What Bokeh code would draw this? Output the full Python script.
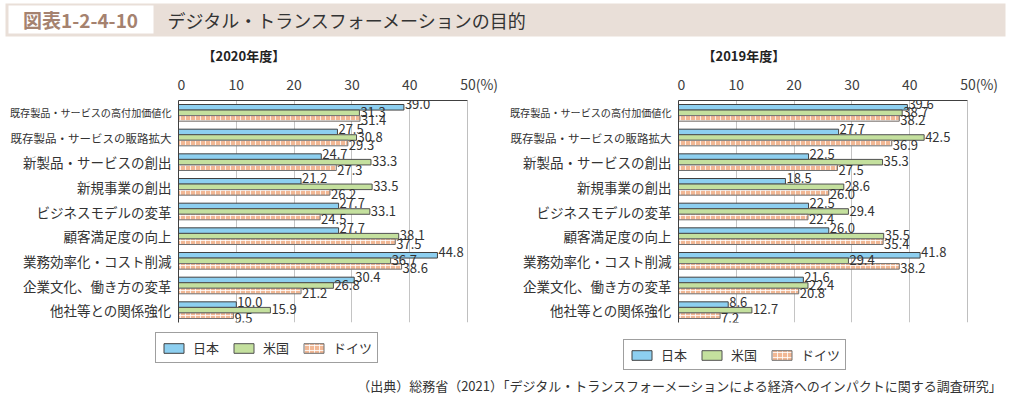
from bokeh.plotting import figure
from bokeh.models import (ColumnDataSource, FactorRange, Range1d, FixedTicker, LabelSet,
                          Legend, LegendItem, Span)
from bokeh.layouts import column, row
from bokeh.transform import dodge
from bokeh.core.properties import value, field
from bokeh.embed import file_html
from bokeh.resources import INLINE

# ---------------- data ----------------
categories = [
    "既存製品・サービスの高付加価値化",
    "既存製品・サービスの販路拡大",
    "新製品・サービスの創出",
    "新規事業の創出",
    "ビジネスモデルの変革",
    "顧客満足度の向上",
    "業務効率化・コスト削減",
    "企業文化、働き方の変革",
    "他社等との関係強化",
]
series_names = ["日本", "米国", "ドイツ"]

jp_2020 = [39.0, 27.5, 24.7, 21.2, 27.7, 27.7, 44.8, 30.4, 10.0]
us_2020 = [31.3, 30.8, 33.3, 33.5, 33.1, 38.1, 36.7, 26.8, 15.9]
de_2020 = [31.4, 29.3, 27.3, 26.2, 24.5, 37.5, 38.6, 21.2, 9.5]

jp_2019 = [39.6, 27.7, 22.5, 18.5, 22.5, 26.0, 41.8, 21.6, 8.6]
us_2019 = [38.7, 42.5, 35.3, 28.6, 29.4, 35.5, 29.4, 22.4, 12.7]
de_2019 = [38.2, 36.9, 27.5, 26.0, 22.4, 35.4, 38.2, 20.8, 7.2]

x_ticks = [0, 10, 20, 30, 40, 50]
x_tick_labels = {50: "\u2007\u2007\u200750(%)"}

title_tag = "図表1-2-4-10"
title_text = "デジタル・トランスフォーメーションの目的"
source_text = "（出典）総務省（2021）「デジタル・トランスフォーメーションによる経済へのインパクトに関する調査研究」"

# ---------------- style ----------------
FONT = "Noto Sans CJK JP"
C_JP = "#8DCFF0"
C_US = "#C4E09E"
C_DE = "#F2B895"
BAND = "#E9DFD8"
TXT = "#333333"
H = 291
TOP = 59
BOTTOM = 6

JP_STYLE = dict(fill_color=C_JP, line_color="#404040", line_width=1)
US_STYLE = dict(fill_color=C_US, line_color="#505050", line_width=1)
DE_STYLE = dict(fill_color=C_DE, line_color="#707070", line_width=1,
                hatch_pattern="+", hatch_color="white", hatch_scale=5,
                hatch_weight=1, hatch_alpha=0.8)


def panel(year_title, jp, us, de, label_w, chart_w):
    yr = FactorRange(factors=list(reversed(categories)))
    p = figure(width=chart_w, height=H, y_range=yr,
               x_range=Range1d(0, 50), x_axis_location="above",
               output_backend="svg", toolbar_location=None,
               min_border_left=1, min_border_right=chart_w - 1 - 289,
               min_border_top=TOP, min_border_bottom=BOTTOM)
    p.outline_line_color = None

    src = ColumnDataSource(dict(
        cat=categories, jp=jp, us=us, de=de,
        jp_t=[f"{v:.1f}" for v in jp],
        us_t=[f"{v:.1f}" for v in us],
        de_t=[f"{v:.1f}" for v in de],
    ))

    h = 0.225
    p.hbar(y=dodge("cat", h, range=yr), right="jp", left=0, height=h, source=src, **JP_STYLE)
    p.hbar(y=dodge("cat", 0, range=yr), right="us", left=0, height=h, source=src, **US_STYLE)
    p.hbar(y=dodge("cat", -h, range=yr), right="de", left=0, height=h, source=src, **DE_STYLE)

    # data labels (label-set y offsets: positive = up)
    for key, off, yoff in (("jp", h, 3), ("us", 0, 1), ("de", -h, -2)):
        p.add_layout(LabelSet(x=key, y=dodge("cat", off, range=yr), text=key + "_t",
                              source=src, x_offset=1, y_offset=yoff,
                              text_align="left", text_baseline="middle",
                              text_font=value(FONT), text_font_size="13px",
                              text_color=TXT))

    # x axis (top)
    ax = p.xaxis[0]
    ax.ticker = FixedTicker(ticks=x_ticks)
    ax.major_label_overrides = x_tick_labels
    ax.major_label_text_font = FONT
    ax.major_label_text_font_size = "14px"
    ax.major_label_text_color = "#404040"
    ax.major_tick_line_color = None
    ax.minor_tick_line_color = None
    ax.axis_line_color = "#404040"
    ax.major_label_standoff = 1

    p.xgrid.ticker = FixedTicker(ticks=x_ticks)
    p.xgrid.grid_line_color = "#C4C4C4"
    p.ygrid.grid_line_color = None
    p.add_layout(Span(location=50, dimension="height", line_color="#808080", line_width=1))

    # y axis: line only; category names are drawn in the label figure
    ay = p.yaxis[0]
    ay.axis_line_color = "#404040"
    ay.major_tick_line_color = None
    ay.minor_tick_line_color = None
    ay.major_tick_out = 0
    ay.major_tick_in = 0
    ay.major_label_standoff = 0
    ay.major_label_text_font_size = "0px"
    ay.major_label_text_color = None

    p.title.text = year_title
    p.title.align = "left"
    p.title.offset = 24
    p.title.text_font = FONT
    p.title.text_font_size = "13px"
    p.title.text_font_style = "bold"
    p.title.text_color = "#222222"
    p.title.standoff = 12

    # category label column sharing the chart's y range
    lf = figure(width=label_w, height=H, y_range=yr, x_range=Range1d(0, label_w),
                output_backend="svg", toolbar_location=None,
                min_border_left=0, min_border_right=0,
                min_border_top=TOP, min_border_bottom=BOTTOM)
    lf.axis.visible = False
    lf.grid.grid_line_color = None
    lf.outline_line_color = None
    lsrc = ColumnDataSource(dict(
        cat=categories,
        xpos=[label_w - 6] * len(categories),
        fs=[f"{min(13.5, 161 / len(c)):.1f}px" for c in categories],
    ))
    lf.text(x="xpos", y="cat", text="cat", source=lsrc, text_align="right",
            text_baseline="middle", text_font=value(FONT), text_font_size=field("fs"),
            text_color=TXT)
    return row(lf, p)


left = panel("【2020年度】", jp_2020, us_2020, de_2020, 177, 331)
right = panel("【2019年度】", jp_2019, us_2019, de_2019, 169, 338)

# legend strip (keys for both panels); key glyphs sit outside the visible range
leg = figure(width=1015, height=44, x_range=Range1d(0, 1015), y_range=Range1d(0, 44),
             output_backend="svg", toolbar_location=None, min_border=0)
leg.axis.visible = False
leg.grid.grid_line_color = None
leg.outline_line_color = None
keysrc = ColumnDataSource(dict(y=[-1000], r=[1]))
k_jp = leg.hbar(y="y", right="r", left=0, height=1, source=keysrc, **JP_STYLE)
k_us = leg.hbar(y="y", right="r", left=0, height=1, source=keysrc, **US_STYLE)
k_de = leg.hbar(y="y", right="r", left=0, height=1, source=keysrc, **DE_STYLE)
for loc in ((155, 9), (623, 2)):
    leg.add_layout(Legend(items=[LegendItem(label=series_names[0], renderers=[k_jp]),
                                 LegendItem(label=series_names[1], renderers=[k_us]),
                                 LegendItem(label=series_names[2], renderers=[k_de])],
                          orientation="horizontal", location=loc,
                          glyph_width=25, glyph_height=12, label_standoff=7, spacing=12,
                          padding=5, label_height=14, label_text_font=FONT,
                          label_text_font_size="13px", label_text_color=TXT,
                          border_line_color="#404040", border_line_width=1,
                          background_fill_color="white", background_fill_alpha=1,
                          margin=0))

# title band
top = figure(width=1015, height=37, x_range=Range1d(0, 1015), y_range=Range1d(0, 37),
             output_backend="svg", toolbar_location=None, min_border=0)
top.axis.visible = False
top.grid.grid_line_color = None
top.outline_line_color = None
top.quad(left=[5], right=[1005], bottom=[1], top=[34], fill_color=BAND, line_color=None)
top.quad(left=[8], right=[153], bottom=[4], top=[32], fill_color="white", line_color=None)
top.text(x=[80], y=[18], text=[title_tag], text_align="center", text_baseline="middle",
         text_font=value(FONT), text_font_size="19px", text_font_style="bold",
         text_color="#A5826F")
top.text(x=[167], y=[18], text=[title_text], text_align="left", text_baseline="middle",
         text_font=value(FONT), text_font_size="18px", text_color=TXT)

# source line
src_fig = figure(width=1015, height=38, x_range=Range1d(0, 1015), y_range=Range1d(0, 38),
                 output_backend="svg", toolbar_location=None, min_border=0)
src_fig.axis.visible = False
src_fig.grid.grid_line_color = None
src_fig.outline_line_color = None
src_fig.text(x=[1003], y=[25], text=[source_text], text_align="right", text_baseline="middle",
             text_font=value(FONT), text_font_size="13px", text_color=TXT)

layout = column(top, row(left, right), leg, src_fig)

with open("out.html", "w") as f:
    f.write(file_html(layout, INLINE))
